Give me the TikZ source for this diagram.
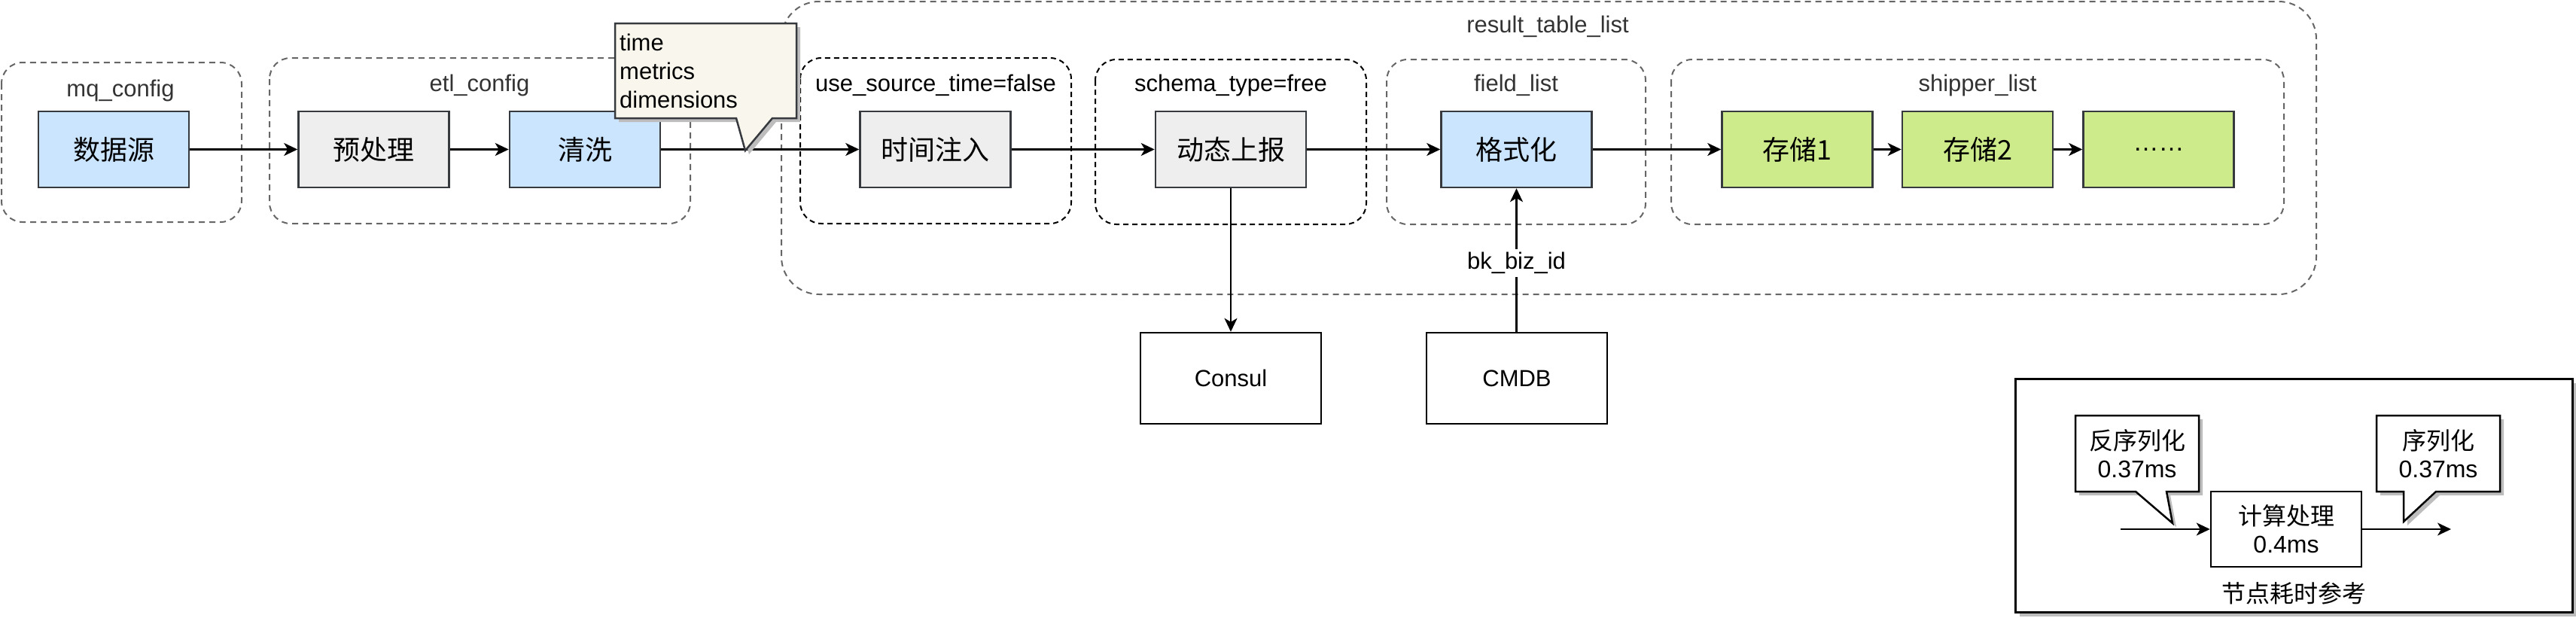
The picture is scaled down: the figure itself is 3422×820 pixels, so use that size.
\documentclass[tikz,border=0pt]{standalone}
\usepackage{fontspec}
\setmainfont{Liberation Sans}
\newfontfamily\cjk{Noto Sans CJK SC}
\usetikzlibrary{arrows.meta}
\definecolor{bdr}{HTML}{36393D}
\definecolor{bluef}{HTML}{CCE5FF}
\definecolor{greyf}{HTML}{EEEEEE}
\definecolor{greenf}{HTML}{CDEB8B}
\definecolor{notef}{HTML}{F9F7ED}
\definecolor{dashg}{HTML}{666666}
\definecolor{labc}{HTML}{333333}
\definecolor{shad}{HTML}{BDBDBD}
\tikzset{
 box/.style={draw=bdr, line width=2.5pt, minimum width=200pt, minimum height=101pt, inner sep=0pt, font=\cjk\fontsize{36}{43}\selectfont},
 bluebox/.style={box, fill=bluef},
 greybox/.style={box, fill=greyf},
 greenbox/.style={box, fill=greenf},
 extbox/.style={draw=black, line width=2.5pt, minimum width=240pt, minimum height=121pt, inner sep=0pt, font=\fontsize{31}{37}\selectfont},
 grpgrey/.style={draw=dashg, line width=2pt, dash pattern=on 8pt off 6pt, rounded corners=28pt},
 grpblack/.style={draw=black, line width=2pt, dash pattern=on 7pt off 5pt, rounded corners=28pt},
 grplabel/.style={text=labc, font=\fontsize{31}{37}\selectfont, inner sep=0pt},
 flow/.style={line width=2.5pt, -{Stealth[length=18pt,width=17pt,inset=5pt]}},
 legflow/.style={line width=2pt, -{Stealth[length=18pt,width=17pt,inset=5pt]}},
 legtext/.style={align=center, inner sep=0pt, font=\fontsize{32}{37}\selectfont},
}
\begin{document}
\begin{tikzpicture}[x=1pt,y=-1pt]
\useasboundingbox (0,0) rectangle (3422,820);
% containers
\draw[grpgrey] (2,83) rectangle (321,295);
\node[grplabel] (lmq) at (160,120) {mq\_config};
\draw[grpgrey] (358,77) rectangle (917,297);
\node[grplabel] (letl) at (637,113) {etl\_config};
\draw[grpgrey, rounded corners=50pt] (1038,2) rectangle (3077,391);
\node[grplabel] (lrtl) at (2056,35) {result\_table\_list};
\draw[grpblack] (1063,77) rectangle (1423,297);
\node[grplabel, text=black] (luse) at (1243,113) {use\_source\_time=false};
\draw[grpblack] (1455,79) rectangle (1815,298);
\node[grplabel, text=black] (lsch) at (1635,113) {schema\_type=free};
\draw[grpgrey] (1842,79) rectangle (2186,298);
\node[grplabel] (lfield) at (2014,113) {field\_list};
\draw[grpgrey] (2220,79) rectangle (3034,298);
\node[grplabel] (lship) at (2627,113) {shipper\_list};
% boxes
\node[bluebox] (ds) at (151,198.5) {数据源};
\node[greybox] (pre) at (496.5,198.5) {预处理};
\node[bluebox] (clean) at (777,198.5) {清洗};
\node[greybox] (tinj) at (1242.5,198.5) {时间注入};
\node[greybox] (dyn) at (1635,198.5) {动态上报};
\node[bluebox] (fmt) at (2014.5,198.5) {格式化};
\node[greenbox] (s1) at (2387.5,198.5) {存储1};
\node[greenbox] (s2) at (2627,198.5) {存储2};
\node[greenbox, font=\fontsize{34}{40}\selectfont] (s3) at (2867.5,198.5) {……};
\node[extbox] (consul) at (1635,502.5) {Consul};
\node[extbox] (cmdb) at (2015,502.5) {CMDB};
% flows
\draw[flow] (ds) -- (pre);
\draw[flow] (pre) -- (clean);
\draw[flow] (clean) -- (tinj);
\draw[flow] (tinj) -- (dyn);
\draw[flow] (dyn) -- (fmt);
\draw[flow] (fmt) -- (s1);
\draw[flow] (s1) -- (s2);
\draw[flow] (s2) -- (s3);
\draw[flow] (dyn) -- (consul);
\draw[flow] (cmdb.north -| fmt.south) -- (fmt.south) node[pos=0.48, fill=white, inner sep=4pt, font=\fontsize{31}{37}\selectfont] (bk) {bk\_biz\_id};
% note callout
\fill[shad, shift={(5,5)}] (817,31) -- (1058,31) -- (1058,157) -- (1026,157) -- (990,200) -- (978,157) -- (817,157) -- cycle;
\draw[bdr, line width=2.5pt, fill=notef] (817,31) -- (1058,31) -- (1058,157) -- (1026,157) -- (990,200) -- (978,157) -- (817,157) -- cycle;
\node[anchor=north west, align=left, inner sep=0pt, font=\fontsize{31}{38}\selectfont] (note) at (823,45) {time\\metrics\\dimensions};
% legend
\fill[shad] (2683,509) rectangle (3422,819);
\draw[black, line width=3pt, fill=white] (2677,503) rectangle (3417,813);
\fill[shad, shift={(5,5)}] (2757,552) -- (2921,552) -- (2921,653) -- (2878,653) -- (2886,695) -- (2837,653) -- (2757,653) -- cycle;
\draw[black, line width=2.5pt, fill=white] (2757,552) -- (2921,552) -- (2921,653) -- (2878,653) -- (2886,695) -- (2837,653) -- (2757,653) -- cycle;
\fill[shad, shift={(5,5)}] (3157,552) -- (3321,552) -- (3321,653) -- (3236,653) -- (3193,693) -- (3193,653) -- (3157,653) -- cycle;
\draw[black, line width=2.5pt, fill=white] (3157,552) -- (3321,552) -- (3321,653) -- (3236,653) -- (3193,693) -- (3193,653) -- (3157,653) -- cycle;
\node[legtext] (deser) at (2839,602.5) {{\cjk 反序列化}\\0.37ms};
\node[legtext] (ser) at (3239,602.5) {{\cjk 序列化}\\0.37ms};
\node[legtext, draw=black, line width=2.5pt, minimum width=200pt, minimum height=100pt] (calc) at (3037,703) {{\cjk 计算处理}\\0.4ms};
\coordinate (lin) at (2817,703);
\coordinate (lout) at (3256,703);
\draw[legflow] (lin) -- (calc);
\draw[legflow] (calc) -- (lout);
\node[legtext, font=\cjk\fontsize{32}{37}\selectfont] (legtitle) at (3047,788) {节点耗时参考};
\end{tikzpicture}
\end{document}
